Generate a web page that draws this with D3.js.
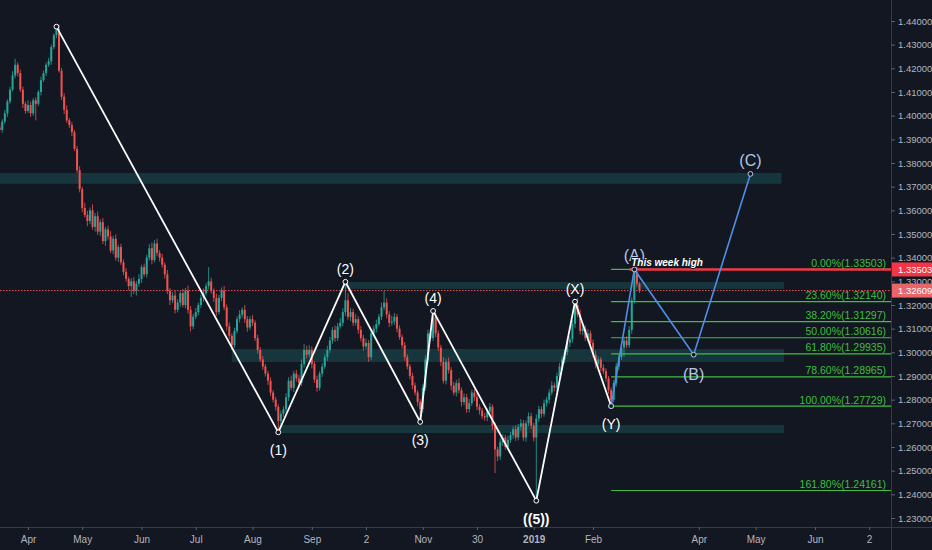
<!DOCTYPE html>
<html>
<head>
<meta charset="utf-8">
<script src="https://cdn.jsdelivr.net/npm/d3@7"></script>
<style>
html, body { margin: 0; background: #131722; }
svg { display: block; font-family: "Liberation Sans", Arial, sans-serif; }
</style>
</head>
<body>
<svg id="chart"></svg>
<script>
// trading days (weekdays) from first to last date on the time axis
const firstDay = "2018-03-14";
const lastDay = "2019-07-12";

// daily candles, in pips (1.3935 -> 13935); open = previous close
const firstOpen = 13920;
const closes = [
  13935, 13950, 13940, 13975, 14010, 14060, 14110, 14170, 14215, 14180,
  14110, 14050, 14020, 14045, 14010, 14065, 14050, 14100, 14150, 14180,
  14215, 14230, 14290, 14340, 14365, 14190, 14080, 14025, 13980, 13960,
  13930, 13860, 13770, 13690, 13610, 13580, 13555, 13600, 13530, 13575,
  13510, 13550, 13470, 13520, 13490, 13430, 13480, 13400, 13445, 13380,
  13340, 13310, 13280, 13300, 13260, 13290, 13310, 13360, 13330, 13400,
  13440, 13390, 13460, 13420, 13400, 13370, 13330, 13260, 13220, 13240,
  13180, 13210, 13250, 13200, 13260, 13180, 13110, 13150, 13170, 13200,
  13230, 13250, 13280, 13300, 13260, 13230, 13170, 13230, 13260, 13190,
  13110, 13070, 13030, 13090, 13140, 13160, 13180, 13140, 13105, 13140,
  13125, 13060, 13010, 12970, 12940, 12910, 12880, 12830, 12800, 12770,
  12710, 12740, 12760, 12810, 12880, 12850, 12910, 12890, 12870, 12950,
  13010, 12990, 13010, 12950, 12885, 12850, 12910, 12940, 12980, 13010,
  13050, 13095, 13060, 13110, 13125, 13170, 13220, 13150, 13170, 13125,
  13140, 13095, 13060, 13025, 13040, 12980, 13080, 13100, 13120, 13150,
  13190, 13210, 13160, 13125, 13130, 13150, 13100, 13065, 13030, 12980,
  12940, 12900, 12860, 12830, 12790, 12760, 12850, 12970, 13080, 13060,
  13150, 13080, 13020, 12960, 12880, 12960, 12925, 12860, 12830, 12870,
  12840, 12790, 12810, 12760, 12785, 12830, 12810, 12770, 12755, 12730,
  12725, 12750, 12770, 12690, 12590, 12560, 12620, 12640, 12600, 12630,
  12650, 12675, 12640, 12685, 12700, 12640, 12700, 12730, 12690, 12640,
  12720, 12760, 12740, 12785, 12800, 12830, 12860, 12850, 12900, 12940,
  12970, 13000, 13040, 13055, 13120, 13200, 13160, 13090, 13100, 13060,
  13080, 13040, 12990, 12950, 12970, 12935, 12920, 12890, 12840, 12800,
  12870, 12940, 12980, 13020, 13050, 13030, 13095, 13220, 13340, 13290,
  13261
];
const wickUp = [
  12, 8, 15, 10, 14, 9, 12, 18, 25, 10,
  15, 12, 9, 20, 14, 10, 12, 8, 15, 11,
  9, 14, 10, 8, 11, 20, 12, 15, 18, 10,
  14, 9, 12, 16, 10, 22, 18, 12, 25, 14,
  20, 12, 18, 10, 15, 22, 12, 18, 10, 14,
  12, 16, 10, 14, 18, 12, 20, 10, 15, 12,
  18, 24, 14, 20, 12, 16, 10, 18, 12, 15,
  20, 14, 10, 18, 12, 22, 15, 12, 18, 10,
  14, 20, 12, 60, 15, 10, 18, 12, 14, 20,
  12, 16, 10, 14, 12, 18, 10, 20, 14, 12,
  18, 10, 14, 12, 15, 10, 12, 14, 10, 12,
  10, 14, 12, 18, 15, 22, 12, 16, 14, 20,
  25, 18, 20, 14, 12, 16, 10, 14, 12, 18,
  15, 12, 18, 14, 20, 16, 78, 30, 18, 14,
  20, 12, 16, 14, 18, 12, 16, 14, 18, 12,
  20, 48, 18, 14, 25, 16, 12, 14, 10, 14,
  12, 10, 14, 12, 10, 12, 14, 18, 16, 14,
  25, 18, 14, 12, 20, 14, 18, 12, 16, 14,
  20, 12, 16, 14, 18, 12, 14, 16, 12, 10,
  14, 12, 16, 10, 14, 12, 16, 14, 12, 18,
  14, 12, 16, 12, 18, 14, 12, 16, 14, 12,
  18, 14, 12, 16, 12, 14, 18, 12, 14, 16,
  12, 14, 18, 12, 16, 14, 30, 22, 16, 14,
  18, 12, 14, 16, 12, 10, 14, 12, 10, 12,
  14, 16, 12, 20, 14, 18, 16, 12, 10, 25,
  8
];
const wickDown = [
  10, 14, 8, 12, 9, 15, 10, 8, 12, 14,
  10, 18, 12, 9, 15, 11, 70, 10, 14, 8,
  12, 9, 15, 10, 12, 8, 14, 18, 10, 12,
  16, 10, 12, 14, 18, 10, 22, 14, 12, 20,
  14, 18, 12, 20, 14, 10, 16, 12, 18, 10,
  14, 12, 18, 46, 14, 20, 12, 16, 10, 14,
  12, 18, 10, 14, 16, 12, 18, 14, 20, 12,
  16, 12, 18, 10, 14, 16, 22, 12, 10, 14,
  12, 16, 10, 14, 12, 18, 16, 10, 14, 12,
  18, 14, 20, 12, 10, 14, 12, 16, 18, 10,
  14, 12, 16, 10, 14, 12, 18, 14, 12, 16,
  48, 18, 12, 14, 16, 12, 18, 14, 20, 12,
  14, 16, 12, 18, 14, 16, 12, 14, 10, 16,
  12, 14, 16, 12, 10, 14, 16, 12, 18, 14,
  12, 16, 14, 18, 12, 20, 14, 12, 16, 10,
  14, 12, 16, 18, 12, 14, 16, 12, 14, 16,
  12, 14, 16, 12, 18, 54, 14, 12, 16, 14,
  12, 16, 14, 18, 12, 16, 14, 20, 12, 16,
  14, 18, 12, 16, 14, 12, 16, 14, 18, 12,
  14, 16, 12, 18, 100, 20, 14, 16, 12, 14,
  12, 16, 14, 12, 16, 14, 18, 12, 14, 16,
  267, 14, 16, 12, 14, 16, 12, 14, 18, 12,
  14, 16, 12, 18, 14, 16, 12, 14, 18, 12,
  16, 14, 12, 18, 14, 16, 12, 14, 16, 27,
  12, 14, 16, 12, 40, 14, 12, 16, 14, 12,
  10
];

// Elliott wave count (white) and projected ABC (blue)
const waveDates = ["2018-04-17", "2018-08-15", "2018-09-20", "2018-10-31", "2018-11-07", "2019-01-02", "2019-01-23", "2019-02-12"];
const wavePrices = [1.4376, 1.2662, 1.3298, 1.2706, 1.3175, 1.2373, 1.3214, 1.27729];
const waveLabels = ["", "(1)", "(2)", "(3)", "(4)", "((5))", "(X)", "(Y)"];
const abcDates = ["2019-02-12", "2019-02-25", "2019-03-28", "2019-04-29"];
const abcPrices = [1.27729, 1.33503, 1.2990, 1.3754];
const abcLabels = ["", "(A)", "(B)", "(C)"];

// fibonacci retracement
const fibRatios = ["0.00%", "23.60%", "38.20%", "50.00%", "61.80%", "78.60%", "100.00%", "161.80%"];
const fibValues = [1.33503, 1.32140, 1.31297, 1.30616, 1.29935, 1.28965, 1.27729, 1.24161];
const fibStart = "2019-02-12";

// support / resistance zones
const zoneStarts = ["2018-03-14", "2018-09-20", "2018-07-20", "2018-08-15"];
const zoneEnds = ["2019-05-15", "2019-05-16", "2019-05-16", "2019-05-16"];
const zoneHigh = [1.3758, 1.3297, 1.3014, 1.2693];
const zoneLow = [1.3712, 1.3268, 1.2959, 1.2659];

const weekHigh = 1.33503;
const weekHighStart = "2019-02-21";
const lastPrice = 1.32609;

// axis ticks
const priceTicks = [1.23, 1.24, 1.25, 1.26, 1.27, 1.28, 1.29, 1.30, 1.31, 1.32, 1.33, 1.34,
  1.35, 1.36, 1.37, 1.38, 1.39, 1.40, 1.41, 1.42, 1.43, 1.44];
const tickDates = ["2018-04-02", "2018-05-01", "2018-06-01", "2018-07-02", "2018-08-01", "2018-09-03",
  "2018-10-02", "2018-11-01", "2018-11-30", "2019-01-01", "2019-02-01", "2019-04-01", "2019-05-01",
  "2019-06-03", "2019-07-02"];
const tickLabels = ["Apr", "May", "Jun", "Jul", "Aug", "Sep", "2", "Nov", "30", "2019", "Feb", "Apr", "May", "Jun", "2"];

const W = 932, H = 550;
const plotRight = 891, plotBottom = 527;
const barStep = 2.58, barOrigin = -5.5;
const upColor = "#26a69a", downColor = "#ef5350";
const labelColor = "#b2b5be", lineColor = "#363a45";
const fibColor = "#3fbf3f";

const parseDate = d3.utcParse("%Y-%m-%d");
const formatDate = d3.utcFormat("%Y-%m-%d");
const days = d3.utcDays(parseDate(firstDay), d3.utcDay.offset(parseDate(lastDay), 1))
  .filter(d => d.getUTCDay() % 6 !== 0)
  .map(formatDate);

const xScale = d3.scalePoint()
  .domain(days)
  .range([barOrigin, barOrigin + barStep * (days.length - 1)]);

const yScale = d3.scaleLinear()
  .domain([1.23, 1.44])
  .range([518, 21]);

const svg = d3.select("#chart")
  .attr("width", W)
  .attr("height", H);

svg.append("rect").attr("width", W).attr("height", H).attr("fill", "#131722");

svg.append("clipPath").attr("id", "plot")
  .append("rect").attr("width", plotRight).attr("height", plotBottom);

const plot = svg.append("g").attr("clip-path", "url(#plot)");

// zones
plot.selectAll(".zone")
  .data(zoneHigh)
  .join("rect")
  .attr("class", "zone")
  .attr("x", (d, i) => xScale(zoneStarts[i]))
  .attr("width", (d, i) => xScale(zoneEnds[i]) - xScale(zoneStarts[i]))
  .attr("y", d => yScale(d))
  .attr("height", (d, i) => yScale(zoneLow[i]) - yScale(d))
  .attr("fill", "#26a69a")
  .attr("fill-opacity", 0.22);

// last price dotted line
plot.append("line")
  .attr("x1", 0).attr("x2", plotRight)
  .attr("y1", yScale(lastPrice)).attr("y2", yScale(lastPrice))
  .attr("stroke", "#ef5350")
  .attr("stroke-dasharray", "1.5,1.5")
  .attr("stroke-width", 1);

// candles
const bars = closes.map((c, i) => {
  const o = i ? closes[i - 1] : firstOpen;
  return {
    date: days[i],
    open: o / 1e4,
    close: c / 1e4,
    high: (Math.max(o, c) + wickUp[i]) / 1e4,
    low: (Math.min(o, c) - wickDown[i]) / 1e4
  };
});

const candle = plot.selectAll(".candle")
  .data(bars)
  .join("g")
  .attr("class", "candle")
  .attr("transform", d => `translate(${xScale(d.date)},0)`);

candle.append("line")
  .attr("y1", d => yScale(d.high))
  .attr("y2", d => yScale(d.low))
  .attr("stroke", d => d.close >= d.open ? upColor : downColor)
  .attr("stroke-width", 0.8);

candle.append("rect")
  .attr("x", -1)
  .attr("width", 2)
  .attr("y", d => yScale(Math.max(d.open, d.close)))
  .attr("height", d => Math.max(0.8, Math.abs(yScale(d.open) - yScale(d.close))))
  .attr("fill", d => d.close >= d.open ? upColor : downColor);

// fibonacci levels
const fibX0 = xScale(fibStart);
plot.selectAll(".fib")
  .data(fibValues)
  .join("line")
  .attr("class", "fib")
  .attr("x1", fibX0).attr("x2", plotRight)
  .attr("y1", d => yScale(d)).attr("y2", d => yScale(d))
  .attr("stroke", fibColor)
  .attr("stroke-width", 1.2);

// this week high
plot.append("line")
  .attr("x1", xScale(weekHighStart)).attr("x2", plotRight)
  .attr("y1", yScale(weekHigh)).attr("y2", yScale(weekHigh))
  .attr("stroke", "#f23645")
  .attr("stroke-width", 2.5);

svg.selectAll(".fibLabel")
  .data(fibValues)
  .join("text")
  .attr("class", "fibLabel")
  .attr("x", 886)
  .attr("y", d => yScale(d) - 2.5)
  .attr("text-anchor", "end")
  .attr("fill", fibColor)
  .attr("font-size", 10.5)
  .text((d, i) => `${fibRatios[i]}(${d.toFixed(5)})`);

// wave lines
const wavePts = waveDates.map((d, i) => ({ date: d, price: wavePrices[i], label: waveLabels[i] }));
const abcPts = abcDates.map((d, i) => ({ date: d, price: abcPrices[i], label: abcLabels[i] }));

const line = d3.line()
  .x(d => xScale(d.date))
  .y(d => yScale(d.price));

plot.append("path")
  .datum(wavePts)
  .attr("d", line)
  .attr("fill", "none")
  .attr("stroke", "#ffffff")
  .attr("stroke-width", 1.8);

plot.append("path")
  .datum(abcPts)
  .attr("d", line)
  .attr("fill", "none")
  .attr("stroke", "#4f8ee6")
  .attr("stroke-width", 1.6);

function drawLabels(pts, color, size) {
  plot.selectAll(null)
    .data(pts)
    .join("circle")
    .attr("cx", d => xScale(d.date))
    .attr("cy", d => yScale(d.price))
    .attr("r", 2.4)
    .attr("fill", "#131722")
    .attr("stroke", color)
    .attr("stroke-width", 1);

  plot.selectAll(null)
    .data(pts.filter(d => d.label))
    .join("text")
    .attr("x", d => xScale(d.date))
    .attr("y", d => {
      const i = pts.indexOf(d);
      const peak = d.price > pts[i - 1].price;
      return yScale(d.price) + (peak ? -8 : size + 9);
    })
    .attr("text-anchor", "middle")
    .attr("fill", color)
    .attr("font-size", size)
    .attr("font-weight", d => d.label === "((5))" ? "bold" : null)
    .text(d => d.label);
}

drawLabels(wavePts, "#ffffff", 14);
drawLabels(abcPts, "#b5c6e6", 16);

// this week high caption
plot.append("text")
  .attr("x", xScale(weekHighStart) + 2)
  .attr("y", yScale(weekHigh) - 3)
  .attr("fill", "#ffffff")
  .attr("font-size", 10)
  .attr("font-style", "italic")
  .attr("font-weight", "bold")
  .attr("stroke", "#131722")
  .attr("stroke-width", 2)
  .attr("paint-order", "stroke")
  .text("This week high");

// axes
svg.append("line")
  .attr("x1", plotRight + 0.5).attr("x2", plotRight + 0.5)
  .attr("y1", 0).attr("y2", H)
  .attr("stroke", lineColor);

svg.append("line")
  .attr("x1", 0).attr("x2", W)
  .attr("y1", plotBottom + 0.5).attr("y2", plotBottom + 0.5)
  .attr("stroke", lineColor);

const yAxis = svg.append("g")
  .attr("transform", `translate(${plotRight},0)`)
  .call(d3.axisRight(yScale)
    .tickValues(priceTicks)
    .tickFormat(d3.format(".5f"))
    .tickSize(4)
    .tickPadding(3));
yAxis.select(".domain").remove();
yAxis.selectAll("line").attr("stroke", "#5d606b");
yAxis.selectAll("text")
  .attr("fill", labelColor)
  .attr("font-size", 9.5)
  .attr("font-family", "'Liberation Sans', Arial, sans-serif");

const xAxis = svg.append("g")
  .attr("transform", `translate(0,${plotBottom})`)
  .call(d3.axisBottom(xScale)
    .tickValues(tickDates)
    .tickFormat((d, i) => tickLabels[i])
    .tickSize(3)
    .tickPadding(6));
xAxis.select(".domain").remove();
xAxis.selectAll("line").attr("stroke", "#5d606b");
xAxis.selectAll("text")
  .attr("fill", labelColor)
  .attr("font-size", 10)
  .attr("font-family", "'Liberation Sans', Arial, sans-serif")
  .attr("font-weight", (d, i) => tickLabels[i] === "2019" ? "bold" : null);

// price tags
const tags = [{ price: weekHigh, color: "#f23645" }, { price: lastPrice, color: "#e8666a" }];
const tag = svg.selectAll(".tag")
  .data(tags)
  .join("g")
  .attr("class", "tag")
  .attr("transform", d => `translate(${plotRight + 1},${yScale(d.price)})`);

tag.append("rect")
  .attr("y", -7)
  .attr("width", W - plotRight)
  .attr("height", 14)
  .attr("fill", d => d.color);

tag.append("text")
  .attr("x", 6)
  .attr("dy", "0.35em")
  .attr("fill", "#ffffff")
  .attr("font-size", 9.5)
  .text(d => d.price.toFixed(5));
</script>
</body>
</html>
